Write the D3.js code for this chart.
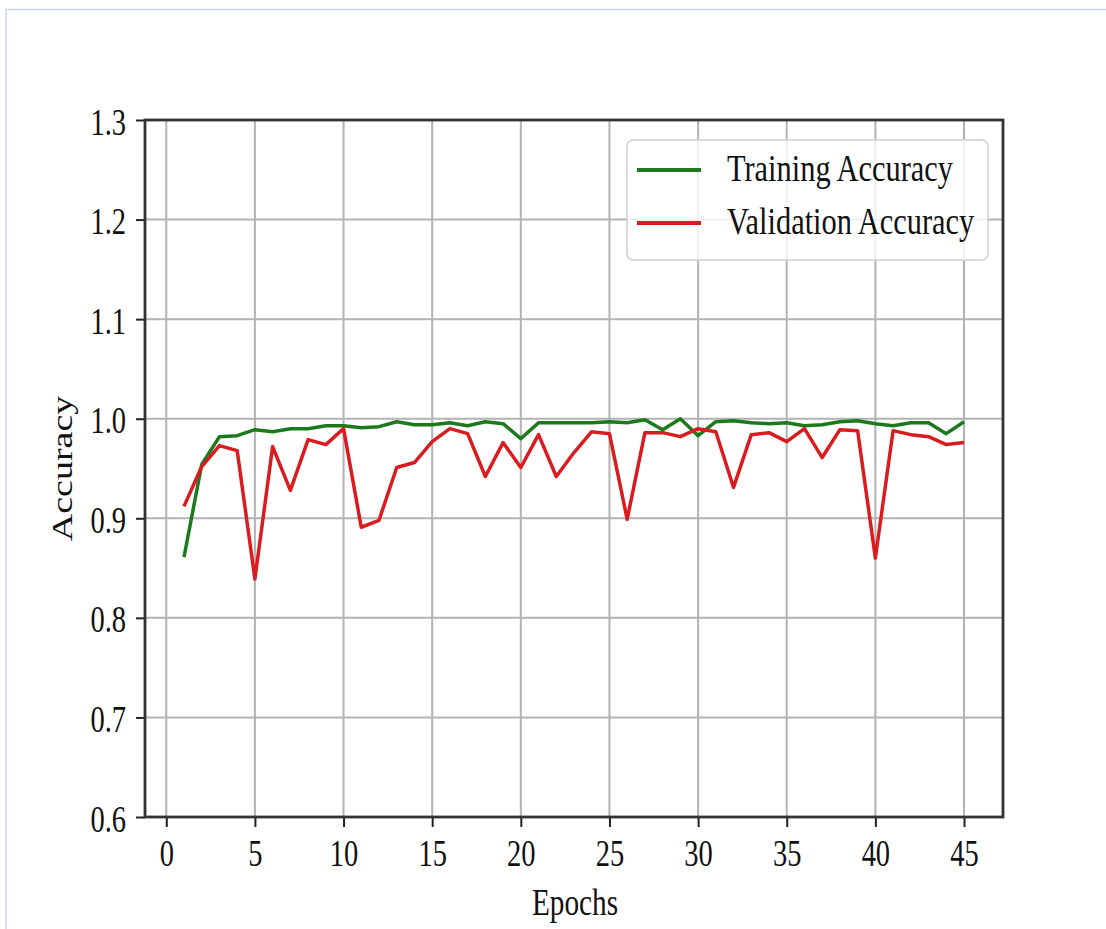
<!DOCTYPE html>
<html>
<head>
<meta charset="utf-8">
<script src="https://cdn.jsdelivr.net/npm/d3@7"></script>
<style>
  body { margin: 0; background: #fff; }
  svg { display: block; }
  text { font-family: "Liberation Serif", "Times New Roman", Times, serif; }
</style>
</head>
<body>
<script>
// Accuracy per epoch
var epochs = d3.range(1, 46);
var training = [0.861, 0.954, 0.982, 0.983, 0.989, 0.987, 0.990, 0.990, 0.993, 0.993,
                0.991, 0.992, 0.997, 0.994, 0.994, 0.996, 0.993, 0.997, 0.995, 0.980,
                0.996, 0.996, 0.996, 0.996, 0.997, 0.996, 0.999, 0.989, 1.000, 0.983,
                0.997, 0.998, 0.996, 0.995, 0.996, 0.993, 0.994, 0.997, 0.998, 0.995,
                0.993, 0.996, 0.996, 0.985, 0.997];
var validation = [0.912, 0.952, 0.973, 0.968, 0.839, 0.972, 0.928, 0.979, 0.974, 0.990,
                  0.891, 0.898, 0.951, 0.956, 0.977, 0.990, 0.985, 0.942, 0.976, 0.951,
                  0.984, 0.942, 0.966, 0.987, 0.985, 0.899, 0.986, 0.986, 0.982, 0.990,
                  0.987, 0.931, 0.984, 0.986, 0.977, 0.990, 0.961, 0.989, 0.988, 0.860,
                  0.988, 0.984, 0.982, 0.974, 0.976];
var xTicks = [0, 5, 10, 15, 20, 25, 30, 35, 40, 45];
var yTicks = [0.6, 0.7, 0.8, 0.9, 1.0, 1.1, 1.2, 1.3];
var seriesNames = ["Training Accuracy", "Validation Accuracy"];
var seriesColors = ["#1c7a1c", "#da1b1f"];

function draw() {
    var width = 1106, height = 929;
    var mLeft = 145, mRight = 1003, mTop = 120, mBottom = 817;
    var squeeze = 0.77; // text in the picture is narrowed horizontally

    var svg = d3.select("body").append("svg")
        .attr("width", width)
        .attr("height", height);

    // thin blue frame of the original screenshot
    svg.append("line").attr("x1", 5).attr("x2", width).attr("y1", 9.5).attr("y2", 9.5)
        .attr("stroke", "#c9d8ee").attr("stroke-width", 1.5);
    svg.append("line").attr("x1", 6).attr("x2", 6).attr("y1", 9).attr("y2", height)
        .attr("stroke", "#c9d8ee").attr("stroke-width", 1.5);

    var x = d3.scaleLinear().domain([-1.2, 47.2]).range([mLeft, mRight]);
    var y = d3.scaleLinear().domain([0.6, 1.3]).range([mBottom, mTop]);

    // grid
    svg.append("g").selectAll("line")
        .data(xTicks)
        .enter().append("line")
        .attr("x1", function(d) { return x(d); })
        .attr("x2", function(d) { return x(d); })
        .attr("y1", mTop).attr("y2", mBottom)
        .attr("stroke", "#b3b3b3").attr("stroke-width", 2);
    svg.append("g").selectAll("line")
        .data(yTicks)
        .enter().append("line")
        .attr("x1", mLeft).attr("x2", mRight)
        .attr("y1", function(d) { return y(d); })
        .attr("y2", function(d) { return y(d); })
        .attr("stroke", "#b3b3b3").attr("stroke-width", 2);

    // lines
    var line = d3.line()
        .x(function(d, i) { return x(epochs[i]); })
        .y(function(d) { return y(d); });

    [training, validation].forEach(function(values, k) {
        svg.append("path")
            .datum(values)
            .attr("fill", "none")
            .attr("stroke", seriesColors[k])
            .attr("stroke-width", 3.5)
            .attr("stroke-linejoin", "round")
            .attr("d", line);
    });

    // axes
    var xAxis = svg.append("g")
        .attr("transform", "translate(0," + mBottom + ")")
        .call(d3.axisBottom(x).tickValues(xTicks).tickSize(10).tickSizeOuter(0).tickFormat(d3.format("d")));
    var yAxis = svg.append("g")
        .attr("transform", "translate(" + mLeft + ",0)")
        .call(d3.axisLeft(y).tickValues(yTicks).tickSize(9).tickSizeOuter(0).tickFormat(d3.format(".1f")));

    [xAxis, yAxis].forEach(function(a) {
        a.attr("font-family", null).attr("font-size", null);
        a.select(".domain").remove();
        a.selectAll(".tick line").attr("stroke", "#222").attr("stroke-width", 2);
        a.selectAll(".tick text")
            .attr("fill", "#111")
            .style("font-size", "37px")
            .attr("x", 0).attr("y", 0).attr("dy", null);
    });
    xAxis.selectAll(".tick text")
        .attr("transform", "translate(0,49) scale(" + squeeze + ",1)");
    yAxis.selectAll(".tick text")
        .attr("transform", "translate(-19,14) scale(" + squeeze + ",1)");

    // frame
    svg.append("rect")
        .attr("x", mLeft).attr("y", mTop)
        .attr("width", mRight - mLeft).attr("height", mBottom - mTop)
        .attr("fill", "none")
        .attr("stroke", "#333").attr("stroke-width", 2.8);

    // axis labels
    svg.append("text")
        .attr("transform", "translate(575,915) scale(" + squeeze + ",1)")
        .attr("text-anchor", "middle")
        .style("font-size", "38px")
        .attr("fill", "#111")
        .text("Epochs");
    svg.append("text")
        .attr("transform", "translate(72," + ((mTop + mBottom) / 2) + ") rotate(-90) scale(1," + squeeze + ")")
        .attr("text-anchor", "middle")
        .style("font-size", "38px")
        .attr("fill", "#111")
        .text("Accuracy");

    // legend
    var legend = svg.append("g");
    legend.append("rect")
        .attr("x", 627).attr("y", 140)
        .attr("width", 361).attr("height", 120)
        .attr("rx", 6)
        .attr("fill", "#fff").attr("fill-opacity", 0.8)
        .attr("stroke", "#d0d0d0").attr("stroke-width", 1.5);

    var items = legend.selectAll(".item")
        .data(seriesNames)
        .enter().append("g")
        .attr("class", "item")
        .attr("transform", function(d, i) { return "translate(0," + (170 + i * 53) + ")"; });
    items.append("line")
        .attr("x1", 637).attr("x2", 701)
        .attr("stroke", function(d, i) { return seriesColors[i]; })
        .attr("stroke-width", 4);
    items.append("text")
        .attr("transform", "translate(727,11) scale(0.8,1)")
        .style("font-size", "38px")
        .attr("fill", "#111")
        .text(function(d) { return d; });
}

draw();
</script>
</body>
</html>
